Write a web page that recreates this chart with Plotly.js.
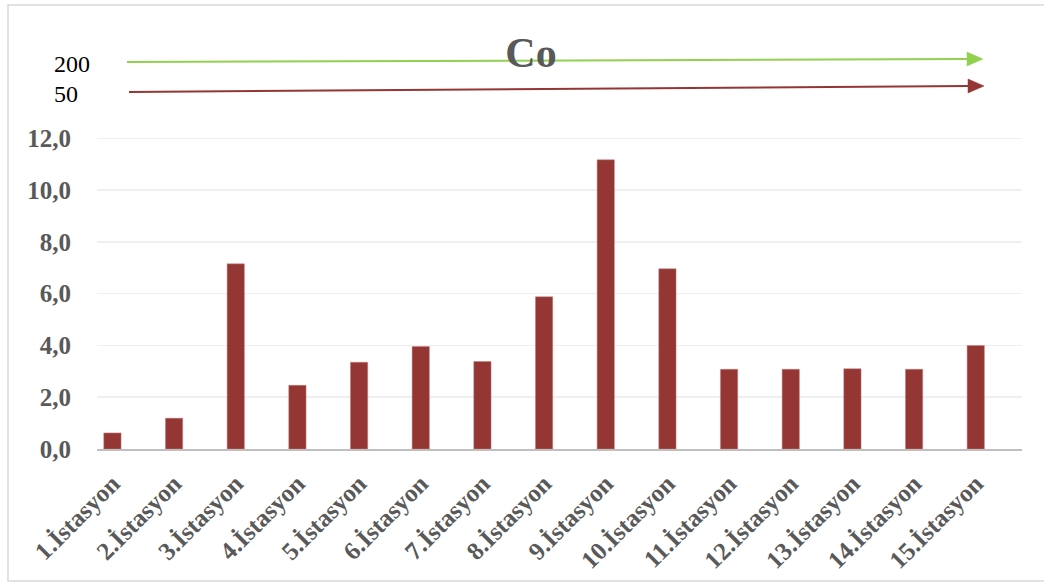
<!DOCTYPE html>
<html>
<head>
<meta charset="utf-8">
<script src="https://cdn.plot.ly/plotly-3.0.1.min.js"></script>
<style>html,body{margin:0;padding:0;background:#fff;}#chart{width:1044px;height:584px;}</style>
</head>
<body>
<div id="chart"></div>
<script>
const categories = ["1.İstasyon","2.İstasyon","3.İstasyon","4.İstasyon","5.İstasyon","6.İstasyon","7.İstasyon","8.İstasyon","9.İstasyon","10.İstasyon","11.İstasyon","12.İstasyon","13.İstasyon","14.İstasyon","15.İstasyon"];
const coValues = [0.62, 1.19, 7.15, 2.46, 3.35, 3.96, 3.38, 5.88, 11.17, 6.96, 3.08, 3.08, 3.10, 3.08, 4.00];
const yTickVals = [0, 2, 4, 6, 8, 10, 12];
const yTickText = ["0,0","2,0","4,0","6,0","8,0","10,0","12,0"];
const limitLabels = ["200", "50"];

// pixel -> paper helpers (plot area: x 97..1022, y 137..449)
const L = 97, R = 1022, T = 137, B = 449;
const px = x => (x - L) / (R - L);
const py = y => (B - y) / (B - T);

const serif = "Liberation Serif, Times New Roman, serif";

const trace = {
  type: "bar",
  x: categories.map((c, i) => i),
  y: coValues,
  width: 0.28,
  marker: {color: "#943634", line: {color: "#c0807f", width: 0.5}},
  hoverinfo: "x+y"
};

const shapes = [
  {type: "rect", xref: "paper", yref: "paper", x0: px(8), x1: px(1050), y0: py(581), y1: py(5),
   line: {color: "#d9d9d9", width: 1.5}, fillcolor: "rgba(0,0,0,0)", layer: "below"},
  {type: "line", xref: "paper", yref: "paper", x0: px(127), y0: py(62), x1: px(968), y1: py(59),
   line: {color: "#92d050", width: 2}},
  {type: "path", xref: "paper", yref: "paper",
   path: `M ${px(967)} ${py(52)} L ${px(983)} ${py(59)} L ${px(967)} ${py(66)} Z`,
   fillcolor: "#92d050", line: {color: "#92d050", width: 0.5}},
  {type: "line", xref: "paper", yref: "paper", x0: px(129), y0: py(92), x1: px(968), y1: py(86),
   line: {color: "#943634", width: 2}},
  {type: "path", xref: "paper", yref: "paper",
   path: `M ${px(968)} ${py(79)} L ${px(984)} ${py(86)} L ${px(968)} ${py(93)} Z`,
   fillcolor: "#943634", line: {color: "#943634", width: 0.5}}
];

const annotations = [
  {xref: "paper", yref: "paper", x: px(52), y: py(64), xanchor: "left", yanchor: "middle",
   text: limitLabels[0], showarrow: false, font: {family: serif, size: 24, color: "#000"}},
  {xref: "paper", yref: "paper", x: px(52), y: py(94), xanchor: "left", yanchor: "middle",
   text: limitLabels[1], showarrow: false, font: {family: serif, size: 24, color: "#000"}}
];

const layout = {
  width: 1044, height: 584,
  margin: {l: L, r: 1044 - R, t: T, b: 584 - B, pad: 0},
  paper_bgcolor: "#fff", plot_bgcolor: "#fff",
  showlegend: false,
  title: {text: "<b>Co</b>", x: px(531), xref: "paper", xanchor: "center",
          y: 1 - 52/584, yanchor: "middle", font: {family: serif, size: 42, color: "#595959"}},
  xaxis: {
    type: "linear", range: [-0.25, 14.75],
    tickvals: categories.map((c, i) => i), ticktext: categories.map(c => "<b>" + c + "</b>"),
    tickangle: -45, ticks: "outside", ticklen: 8, tickcolor: "rgba(0,0,0,0)",
    tickfont: {family: serif, size: 25, color: "#595959"},
    showgrid: false, zeroline: false,
    showline: true, linecolor: "#bfbfbf", linewidth: 2
  },
  yaxis: {
    range: [0, 12.05], tickvals: yTickVals, ticktext: yTickText.map(t => "<b>" + t + "</b>"),
    ticks: "outside", ticklen: 20, tickcolor: "rgba(0,0,0,0)",
    tickfont: {family: serif, size: 25, color: "#595959"},
    showgrid: true, gridcolor: "#efefef", gridwidth: 1.5,
    zeroline: false, showline: false
  },
  shapes: shapes,
  annotations: annotations
};

Plotly.newPlot("chart", [trace], layout, {displayModeBar: false, staticPlot: true});
</script>
</body>
</html>
